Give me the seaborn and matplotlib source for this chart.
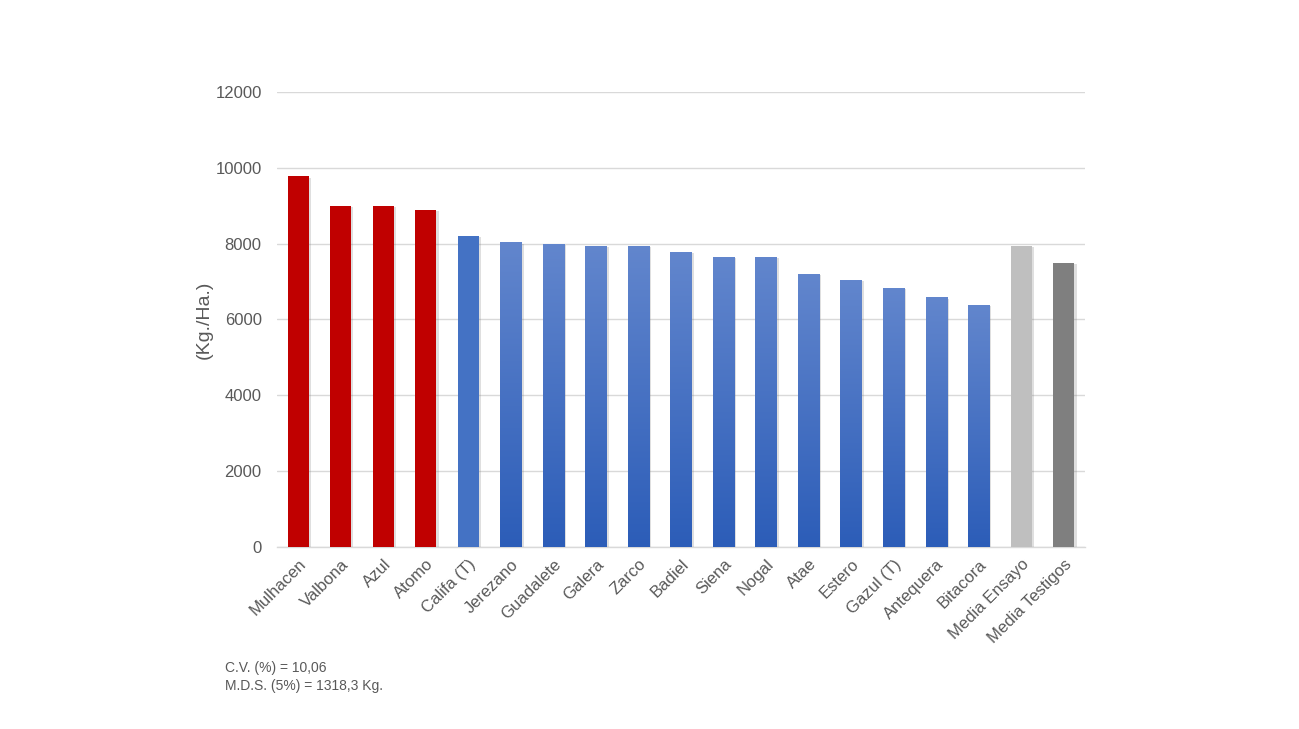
import numpy as np
import pandas as pd
import matplotlib
matplotlib.use("Agg")
import matplotlib.pyplot as plt
import matplotlib.patheffects as pe
from matplotlib.colors import LinearSegmentedColormap
import seaborn as sns

varieties = ["Mulhacen", "Valbona", "Azul", "Atomo", "Califa (T)", "Jerezano",
             "Guadalete", "Galera", "Zarco", "Badiel", "Siena", "Nogal", "Atae",
             "Estero", "Gazul (T)", "Antequera", "Bitacora", "Media Ensayo",
             "Media Testigos"]
yields = [9780, 9000, 9000, 8890, 8200, 8040, 7990, 7940, 7940, 7780, 7650,
          7650, 7200, 7040, 6830, 6590, 6380, 7940, 7490]
groups = ["top", "top", "top", "top", "check", "std", "std", "std", "std", "std",
          "std", "std", "std", "std", "std", "std", "std", "mean_trial", "mean_check"]
group_colors = {"top": "#C00000", "check": "#4472C4", "std": "#4A74C6",
                "mean_trial": "#BFBFBF", "mean_check": "#7F7F7F"}
gradient_top = "#6286CD"
gradient_bottom = "#2C5DB8"
y_ticks = [0, 2000, 4000, 6000, 8000, 10000, 12000]
footnotes = ["C.V. (%) = 10,06", "M.D.S. (5%) = 1318,3 Kg."]

df = pd.DataFrame({"variety": varieties, "yield": yields, "group": groups})

sns.set_theme(style="white")
plt.rcParams["font.family"] = ["Liberation Sans", "DejaVu Sans"]

fig = plt.figure(figsize=(12.99, 7.29), dpi=100)
ax = fig.add_axes([0.2132, 0.2497, 0.6221, 0.6241])

palette = [group_colors[g] for g in groups]
sns.barplot(data=df, x="variety", y="yield", hue="variety", palette=palette,
            legend=False, width=0.5, ax=ax, zorder=3, saturation=1)

ax.set_ylim(0, 12000)
ax.set_xlim(-0.5, len(varieties) - 0.5)
ax.set_yticks(y_ticks)
ax.yaxis.grid(True, color="#D9D9D9", linewidth=1, zorder=0)
ax.set_axisbelow(True)
for s in ["top", "right", "left"]:
    ax.spines[s].set_visible(False)
ax.spines["bottom"].set_color("#D9D9D9")
ax.spines["bottom"].set_linewidth(1)
ax.tick_params(axis="both", length=0, labelsize=12, labelcolor="#595959")
ax.tick_params(axis="y", pad=11)
ax.tick_params(axis="x", pad=7)
ax.set_xlabel("")
ax.set_ylabel("(Kg./Ha.)", fontsize=14, color="#595959", labelpad=2)
for lab in ax.get_xticklabels():
    lab.set_rotation(45)
    lab.set_ha("right")
    lab.set_rotation_mode("anchor")

shadow = [pe.SimplePatchShadow(offset=(1.5, -1), shadow_rgbFace="#808080", alpha=0.25),
          pe.Normal()]
cmap = LinearSegmentedColormap.from_list("grad", [gradient_bottom, gradient_top])
grad = np.linspace(0, 1, 256).reshape(-1, 1)
for patch, g in zip(ax.patches, groups):
    patch.set_path_effects(shadow)
    patch.set_edgecolor("none")
    if g == "std":
        x0 = patch.get_x()
        w = patch.get_width()
        h = patch.get_height()
        im = ax.imshow(grad, cmap=cmap, origin="lower", aspect="auto",
                       extent=[x0, x0 + w, 0, h], zorder=3.5, interpolation="bilinear")
        im.set_clip_path(patch)

ax.set_ylim(0, 12000)
ax.set_xlim(-0.5, len(varieties) - 0.5)

fig.text(0.173, 1 - 668 / 729, footnotes[0], fontsize=10, color="#595959", va="center")
fig.text(0.173, 1 - 686 / 729, footnotes[1], fontsize=10, color="#595959", va="center")

fig.savefig("out.png", dpi=100, facecolor="white")
